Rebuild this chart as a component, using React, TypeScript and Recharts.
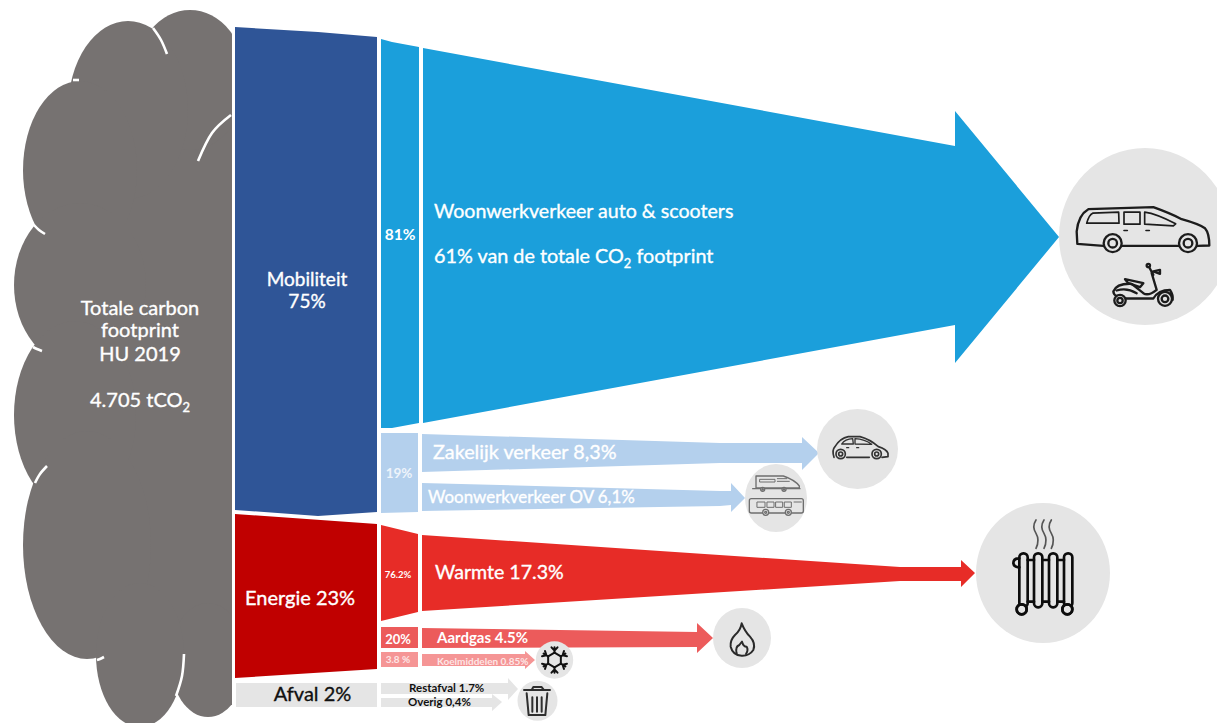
import { Area, ComposedChart, Line, Scatter, XAxis, YAxis } from "recharts";

// band outlines: [x, top edge, bottom edge], in the chart's 1217 x 723 diagram units
const mobiliteitBand = [[235, 27, 510], [318, 32, 516], [377, 37, 512]];
const energieBand = [[235, 514, 678], [377, 524, 669]];
const afvalBand = [[236, 683, 707], [377, 683, 707]];

const autoShareBand = [[381, 39, 428], [392, 42, 428], [419, 47, 423]];
const otherShareBand = [[381, 433, 513], [418, 433, 512]];
const warmteShareBand = [[381, 525, 621], [418, 534, 612]];
const aardgasShareBand = [[381, 627, 648], [418, 627, 648]];
const koelShareBand = [[381, 652, 667], [418, 652, 667]];

const autoArrow = [[423, 48, 423], [955, 146, 325], [955, 111, 363], [1059, 237, 237]];
const zakelijkArrow = [[422, 434, 472], [720, 443, 463], [802, 443, 463], [802, 437, 470], [819, 453, 453]];
const ovArrow = [[422, 483, 511], [720, 491, 506], [731, 491, 505], [731, 483, 512], [745, 498, 498]];
const warmteArrow = [[422, 535, 611], [900, 567, 581], [961, 567, 581], [961, 560, 587], [975, 573, 573]];
const aardgasArrow = [[422, 628, 648], [697, 632, 647], [697, 623, 653], [713, 638, 638]];
const koelArrow = [[422, 654, 666], [525, 654, 666], [525, 651, 669], [535, 660, 660]];
const restafvalArrow = [[381, 683, 694], [508, 683, 694], [508, 678, 700], [518, 689, 689]];
const overigArrow = [[381, 698, 707], [492, 698, 707], [492, 694, 711], [502, 702, 702]];

const cloudCore = [[60, 100, 640], [150, 50, 650], [232, 40, 690]];
const cloudLobes = [
  { x: 190, y: 80, rx: 56, ry: 70 },
  { x: 128, y: 110, rx: 60, ry: 89 },
  { x: 80, y: 170, rx: 57, ry: 89 },
  { x: 80, y: 285, rx: 66, ry: 82 },
  { x: 75, y: 415, rx: 61, ry: 94 },
  { x: 87, y: 545, rx: 64, ry: 114 },
  { x: 208, y: 660, rx: 38, ry: 57 },
  { x: 140, y: 655, rx: 44, ry: 72 },
];
const cloudCreases = [
  [[153, 28], [161, 40], [167, 54]],
  [[73, 80], [76, 80], [79, 80]],
  [[231, 115], [212, 133], [198, 161]],
  [[34, 225], [39, 230], [45, 234]],
  [[33, 347], [37, 349], [42, 351]],
  [[35, 483], [40, 474], [47, 466]],
  [[97, 660], [100, 659], [104, 657]],
  [[176, 696], [182, 676], [184, 654]],
];

const discs = [
  { x: 1145, y: 236.5, rx: 86, ry: 88.5 },
  { x: 857.5, y: 449, rx: 40.5, ry: 40 },
  { x: 776, y: 498, rx: 31, ry: 34 },
  { x: 1043, y: 573, rx: 67, ry: 70 },
  { x: 742, y: 638, rx: 29, ry: 30 },
  { x: 554.5, y: 660, rx: 18.7, ry: 18.7 },
  { x: 537.5, y: 700.7, rx: 20, ry: 20 },
];
const iconNames = ["van", "hatchback", "transit", "radiator", "flame", "snowflake", "bin"];

const captionTexts = [
  "Totale carbon", "footprint", "HU 2019", "4.705 tCO₂",
  "Mobiliteit", "75%", "81%",
  "Woonwerkverkeer auto & scooters", "61% van de totale CO₂ footprint",
  "19%", "Zakelijk verkeer 8,3%", "Woonwerkverkeer OV 6,1%",
  "Energie 23%", "76.2%", "Warmte 17.3%", "20%", "3.8 %",
  "Aardgas 4.5%", "Koelmiddelen 0.85%",
  "Afval 2%", "Restafval 1.7%", "Overig 0,4%",
];

const WHITE = "#ffffff";
const captionPlacement = [
  { x: 140, y: 315, size: 20, anchor: "middle", fill: WHITE },
  { x: 140, y: 337, size: 20, anchor: "middle", fill: WHITE },
  { x: 140, y: 361, size: 20, anchor: "middle", fill: WHITE },
  { x: 140, y: 407, size: 20, anchor: "middle", fill: WHITE },
  { x: 307, y: 286, size: 19, anchor: "middle", fill: WHITE },
  { x: 307, y: 308, size: 19, anchor: "middle", fill: WHITE },
  { x: 400, y: 240, size: 15.5, anchor: "middle", fill: WHITE, weight: 700 },
  { x: 434, y: 218, size: 19.6, anchor: "start", fill: WHITE },
  { x: 434, y: 263, size: 19.8, anchor: "start", fill: WHITE },
  { x: 399, y: 478, size: 13.5, anchor: "middle", fill: "#eef4fb", weight: 700 },
  { x: 433, y: 459, size: 19.8, anchor: "start", fill: WHITE },
  { x: 428, y: 503, size: 16.9, anchor: "start", fill: WHITE },
  { x: 245, y: 605, size: 20, anchor: "start", fill: WHITE },
  { x: 398, y: 578, size: 9.5, anchor: "middle", fill: WHITE, weight: 700 },
  { x: 435, y: 579, size: 19.6, anchor: "start", fill: WHITE },
  { x: 398, y: 644, size: 13, anchor: "middle", fill: WHITE, weight: 700 },
  { x: 398, y: 663, size: 10, anchor: "middle", fill: "#fde6e6", weight: 700 },
  { x: 437, y: 643, size: 15, anchor: "start", fill: WHITE, weight: 700 },
  { x: 437, y: 665, size: 10, anchor: "start", fill: "#fde6e6", weight: 700 },
  { x: 312.5, y: 701, size: 20, anchor: "middle", fill: "#111111" },
  { x: 409, y: 692, size: 11.5, anchor: "start", fill: "#111111", weight: 700 },
  { x: 408, y: 706, size: 11.5, anchor: "start", fill: "#111111", weight: 700 },
];

const toBand = (rows: number[][]) => rows.map(([x, top, bottom]) => ({ x, band: [top, bottom] }));
const toPoints = (rows: number[][]) => rows.map(([x, y]) => ({ x, y }));

const bandSeries: [string, number[][], string][] = [
  ["cloud", cloudCore, "#767271"],
  ["mobiliteit", mobiliteitBand, "#2f5597"],
  ["energie", energieBand, "#c00000"],
  ["afval", afvalBand, "#e5e5e5"],
  ["autoShare", autoShareBand, "#1b9fdb"],
  ["otherShare", otherShareBand, "#b4d0ed"],
  ["warmteShare", warmteShareBand, "#e72c27"],
  ["aardgasShare", aardgasShareBand, "#ec5b5b"],
  ["koelShare", koelShareBand, "#f59595"],
  ["autoArrow", autoArrow, "#1b9fdb"],
  ["zakelijkArrow", zakelijkArrow, "#b4d0ed"],
  ["ovArrow", ovArrow, "#b4d0ed"],
  ["warmteArrow", warmteArrow, "#e72c27"],
  ["aardgasArrow", aardgasArrow, "#ec5b5b"],
  ["koelArrow", koelArrow, "#f59595"],
  ["restafvalArrow", restafvalArrow, "#e5e5e5"],
  ["overigArrow", overigArrow, "#e5e5e5"],
];

// glyphs are outlined at 3x around their own origin, then scaled down onto the disc
function Glyph({ cx, cy, ox, oy, color, width, children }: any) {
  return (
    <g
      transform={`translate(${cx} ${cy}) scale(${1 / 3}) translate(${-ox} ${-oy})`}
      fill="none"
      stroke={color}
      strokeWidth={width}
      strokeLinejoin="round"
      strokeLinecap="round"
    >
      {children}
    </g>
  );
}

function Wheel({ x, y, r, inner }: { x: number; y: number; r: number; inner: number }) {
  return (
    <>
      <circle cx={x} cy={y} r={r} fill="#e5e5e5" />
      <circle cx={x} cy={y} r={inner} />
    </>
  );
}

function VanAndScooter({ cx, cy }: any) {
  return (
    <Glyph cx={cx} cy={cy} ox={615} oy={410} color="#1c1c1c" width={7}>
      <path d="M412 432 L410 395 Q415 345 445 328 L640 322 Q690 340 725 358 Q775 372 795 385 Q808 400 808 437 L772 438 M716 438 L546 438 M490 438 L412 432" />
      <path d="M440 370 Q447 345 458 340 L536 337 L537 370 Z" strokeWidth={5} />
      <path d="M552 337 H600 V373 H552 Z" strokeWidth={5} />
      <path d="M614 337 Q650 342 707 372 L700 378 L614 373 Z" strokeWidth={5} />
      <path d="M552 392 H562 M618 392 H628" strokeWidth={5} />
      <Wheel x={518} y={430} r={27} inner={13} />
      <Wheel x={744} y={430} r={27} inner={13} />
      <path d="M520 575 Q530 550 575 552 L610 580 Q625 590 650 570 L635 520 M520 575 Q520 592 560 596 L640 596 Q655 570 690 570 Q700 585 698 600 M530 572 Q560 562 590 580" />
      <path d="M555 538 L610 550 L600 562 L565 550 Z" />
      <circle cx={625} cy={497} r={5} />
      <path d="M628 503 L640 525 M640 515 L660 510 L660 522 Z" />
      <Wheel x={540} y={602} r={17} inner={8} />
      <Wheel x={675} y={597} r={21} inner={10} />
    </Glyph>
  );
}

function Hatchback({ cx, cy }: any) {
  return (
    <Glyph cx={cx} cy={cy} ox={412.5} oy={147} color="#333333" width={5}>
      <path d="M342 172 Q335 150 345 140 Q360 115 385 110 L420 110 Q450 118 475 140 Q500 148 504 160 L504 170 L486 172 M448 172 L380 172" />
      <path d="M365 132 Q375 117 398 116 L400 132 Z M405 116 Q435 118 455 133 L405 132 Z" strokeWidth={4} />
      <path d="M380 143 H386 M410 143 H416" strokeWidth={4} />
      <Wheel x={362} y={162} r={14} inner={6} />
      <Wheel x={470} y={162} r={14} inner={6} />
    </Glyph>
  );
}

function TrainAndBus({ cx, cy }: any) {
  return (
    <Glyph cx={cx} cy={cy} ox={168} oy={294} color="#6e6e6e" width={4}>
      <path d="M108 228 H190 Q225 240 238 258 V264 H108 Z M98 266 H240" />
      <path d="M120 238 H165 V246 H120 Z M172 236 H200 M172 244 H208" strokeWidth={3} />
      <Wheel x={128} y={268} r={6} inner={2} />
      <Wheel x={192} y={268} r={6} inner={2} />
      <rect x={88} y={296} width={162} height={43} rx={6} />
      <path d="M112 306 H135 V322 H112 Z M142 306 H162 V322 H142 Z M168 306 H188 V322 H168 Z M194 306 H214 V322 H194 Z M222 306 H244" strokeWidth={3} />
      <Wheel x={137} y={337} r={9} inner={3} />
      <Wheel x={205} y={337} r={9} inner={3} />
    </Glyph>
  );
}

function Radiator({ cx, cy }: any) {
  return (
    <Glyph cx={cx} cy={cy} ox={249} oy={249} color="#0d0d0d" width={8}>
      {[178, 222, 267, 312].map((x) => (
        <rect key={x} x={x} y={190} width={25} height={162} rx={12} />
      ))}
      <path d="M203 210 H222 M247 210 H267 M292 210 H312 M203 335 H222 M247 335 H267 M292 335 H312" />
      <path d="M178 205 Q160 205 160 220 Q162 232 178 232" />
      <Wheel x={185} y={358} r={15} inner={15} />
      <Wheel x={322} y={358} r={15} inner={15} />
      {[228, 252, 274].map((x) => (
        <path key={x} d={`M${x} 90 Q${x - 13} 110 ${x} 130 Q${x + 12} 150 ${x} 175`} stroke="#555555" strokeWidth={5} />
      ))}
    </Glyph>
  );
}

function Flame({ cx, cy }: any) {
  return (
    <Glyph cx={cx} cy={cy} ox={186} oy={114} color="#2a2a2a" width={6}>
      <path d="M185 70 Q195 95 210 110 Q228 130 220 150 Q208 168 185 167 Q158 165 152 140 Q150 120 165 105 Q182 90 185 70 Z" />
      <path d="M170 160 Q165 140 178 135 Q183 128 186 125 Q190 140 200 140 Q206 150 198 162" />
    </Glyph>
  );
}

function Snowflake({ cx, cy }: any) {
  return (
    <Glyph cx={cx} cy={cy} ox={0} oy={0} color="#111111" width={6}>
      {[0, 60, 120, 180, 240, 300].map((angle) => (
        <g key={angle} transform={`rotate(${angle})`}>
          <path d="M0 -22 V-38 M-9 -38 L0 -28 L9 -38" />
          <path d="M0 -22 L19 -11" />
        </g>
      ))}
    </Glyph>
  );
}

function Bin({ cx, cy }: any) {
  return (
    <Glyph cx={cx} cy={cy} ox={502.5} oy={272} color="#2e2e2e" width={6}>
      <path d="M462 240 H540 M485 240 L490 231 H515 L522 240" />
      <path d="M470 250 L476 315 H526 L532 250" />
      <path d="M487 262 V305 M501 262 V305 M515 262 V305" />
    </Glyph>
  );
}

const iconComponents: Record<string, any> = {
  van: VanAndScooter,
  hatchback: Hatchback,
  transit: TrainAndBus,
  radiator: Radiator,
  flame: Flame,
  snowflake: Snowflake,
  bin: Bin,
};

const iconPoints = discs.map((d, i) => ({ x: d.x, y: d.y, icon: iconNames[i] }));
const captionPoints = captionTexts.map((text, i) => ({ ...captionPlacement[i], text }));

function Caption({ cx, cy, payload }: any) {
  const { text, size, anchor, fill, weight } = payload;
  const [head, tail] = text.split("₂");
  return (
    <text
      x={cx}
      y={cy}
      fontFamily="Lato, sans-serif"
      fontSize={size}
      fontWeight={weight ?? 400}
      textAnchor={anchor}
      fill={fill}
      stroke={weight ? "none" : fill}
      strokeWidth={0.35}
    >
      {head}
      {tail !== undefined && (
        <>
          <tspan dy={size * 0.25} fontSize={size * 0.65}>2</tspan>
          <tspan dy={-size * 0.25}>{tail}</tspan>
        </>
      )}
    </text>
  );
}

function Lobe({ cx, cy, payload }: any) {
  return <ellipse cx={cx} cy={cy} rx={payload.rx} ry={payload.ry} fill="#767271" clipPath="url(#cloudClip)" />;
}

function Disc({ cx, cy, payload }: any) {
  return <ellipse cx={cx} cy={cy} rx={payload.rx} ry={payload.ry} fill="#e5e5e5" />;
}

function Icon({ cx, cy, payload }: any) {
  const Comp = iconComponents[payload.icon];
  return <Comp cx={cx} cy={cy} />;
}

export default function App() {
  return (
    <div style={{ position: "absolute", left: 0, top: 0, width: 1217, height: 723, overflow: "hidden" }}>
      <ComposedChart width={1217} height={723} margin={{ top: 0, right: 0, bottom: 0, left: 0 }}>
        <defs>
          <clipPath id="cloudClip">
            <rect x={0} y={0} width={232} height={723} />
          </clipPath>
        </defs>
        <XAxis type="number" dataKey="x" domain={[0, 1217]} hide />
        <YAxis type="number" dataKey="y" domain={[0, 723]} reversed hide />
        {bandSeries.map(([name, rows, color]) => (
          <Area
            key={name}
            data={toBand(rows)}
            dataKey="band"
            type="linear"
            stroke="none"
            fill={color}
            fillOpacity={1}
            dot={false}
            activeDot={false}
            isAnimationActive={false}
          />
        ))}
        <Scatter data={cloudLobes} shape={Lobe} isAnimationActive={false} />
        <Scatter data={discs} shape={Disc} isAnimationActive={false} />
        {cloudCreases.map((rows, i) => (
          <Line
            key={i}
            data={toPoints(rows)}
            dataKey="y"
            type="natural"
            stroke={WHITE}
            strokeWidth={2.6}
            dot={false}
            activeDot={false}
            isAnimationActive={false}
            zIndex={700}
          />
        ))}
        <Scatter data={iconPoints} shape={Icon} isAnimationActive={false} />
        <Scatter data={captionPoints} shape={Caption} isAnimationActive={false} />
      </ComposedChart>
    </div>
  );
}
